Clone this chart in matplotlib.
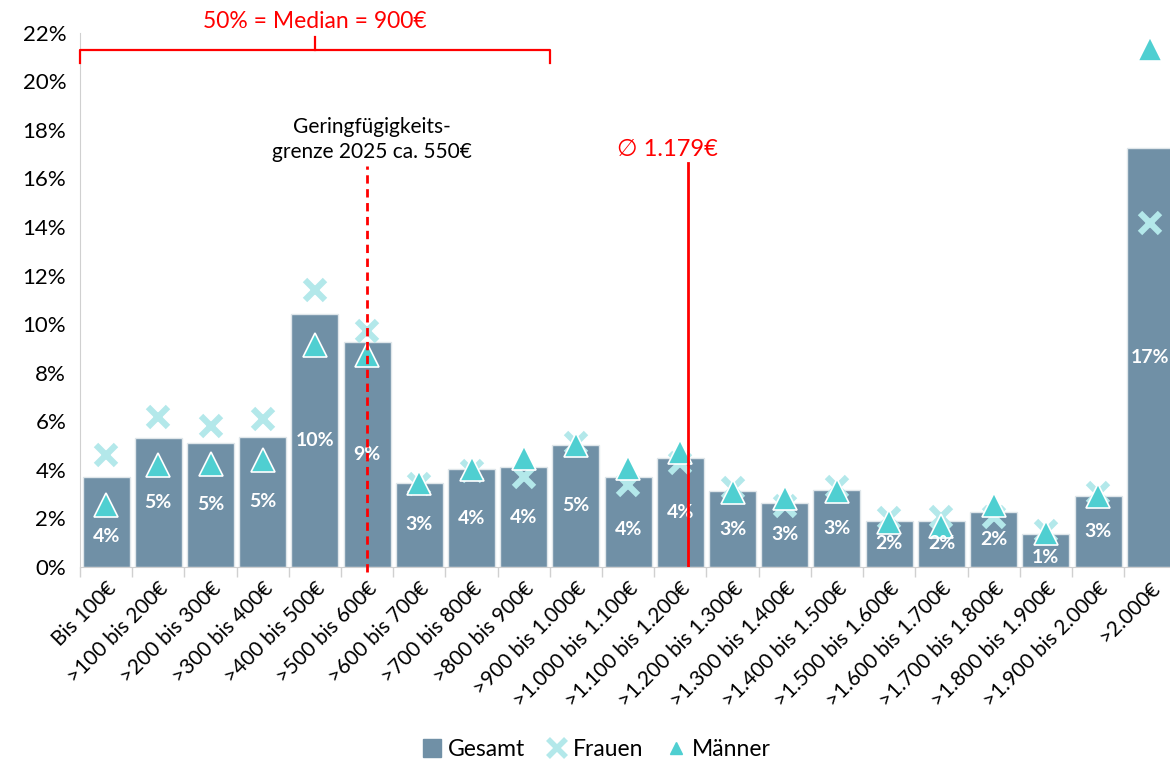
import matplotlib.pyplot as plt
from matplotlib.lines import Line2D
import numpy as np

plt.rcParams['font.family'] = ['Lato', 'DejaVu Sans']

kategorien = ['Bis 100€', '>100 bis 200€', '>200 bis 300€', '>300 bis 400€',
              '>400 bis 500€', '>500 bis 600€', '>600 bis 700€', '>700 bis 800€',
              '>800 bis 900€', '>900 bis 1.000€', '>1.000 bis 1.100€',
              '>1.100 bis 1.200€', '>1.200 bis 1.300€', '>1.300 bis 1.400€',
              '>1.400 bis 1.500€', '>1.500 bis 1.600€', '>1.600 bis 1.700€',
              '>1.700 bis 1.800€', '>1.800 bis 1.900€', '>1.900 bis 2.000€',
              '>2.000€']
gesamt = [3.72, 5.33, 5.12, 5.36, 10.41, 9.28, 3.46, 4.02, 4.11, 5.03, 3.71,
          4.48, 3.12, 2.64, 3.17, 1.90, 1.90, 2.27, 1.37, 2.93, 17.26]
frauen = [4.59, 6.19, 5.81, 6.10, 11.39, 9.70, 3.42, 3.97, 3.72, 5.10, 3.38,
          4.27, 3.24, 2.49, 3.31, 2.01, 2.05, 2.05, 1.46, 3.04, 14.17]
maenner = [2.55, 4.20, 4.24, 4.40, 9.15, 8.74, 3.47, 4.02, 4.50, 5.03, 4.07,
           4.74, 3.10, 2.83, 3.14, 1.85, 1.69, 2.53, 1.39, 2.93, 21.34]

geringfuegig_pos = 5.0     # Klasse >500 bis 600€
durchschnitt_pos = 11.15   # 1.179€
median_pos = 8.5           # Ende der Klasse >800 bis 900€

c_bar = '#7090a6'
c_frau = '#b3e8ea'
c_mann = '#4fcfd1'
rot = '#ff0000'

fig = plt.figure(figsize=(11.7, 7.62), dpi=100)
ax = fig.add_axes([0.0684, 0.256, 0.937, 0.701])

x = np.arange(len(kategorien))
ax.bar(x, gesamt, width=0.9, color=c_bar, edgecolor='#dfe6ea', linewidth=1,
       zorder=2)
ax.plot(x, frauen, linestyle='none', marker='x', markersize=15, mew=4.5,
        color=c_frau, zorder=3)
ax.plot(x, maenner, linestyle='none', marker='^', markersize=17,
        markerfacecolor=c_mann, markeredgecolor='white', mew=1.2, zorder=4)

# Prozentwerte in den Balken
nudge = {0: -0.6, 10: -0.3, 18: -0.3}
for i, v in enumerate(gesamt):
    ax.text(i, v / 2 + nudge.get(i, 0), f'{round(v):.0f}%', ha='center',
            va='center', color='white', fontsize=14, fontweight='bold', zorder=5)

# Geringfügigkeitsgrenze
ax.plot([geringfuegig_pos, geringfuegig_pos], [-0.2, 16.5], color=rot,
        linestyle=(0, (3, 2)), linewidth=2, zorder=6, clip_on=False)
ax.text(geringfuegig_pos + 0.1, 17.6, 'Geringfügigkeits-\ngrenze 2025 ca. 550€',
        ha='center', va='center', fontsize=15, linespacing=1.35)

# Durchschnitt
ax.plot([durchschnitt_pos, durchschnitt_pos], [0, 16.65], color=rot,
        linewidth=2, zorder=6)
ax.text(durchschnitt_pos - 0.4, 17.2, '∅ 1.179€', ha='center', va='center',
        fontsize=17, color=rot)

# Median-Klammer
ax.plot([-0.5, -0.5, median_pos, median_pos], [20.77, 21.3, 21.3, 20.77],
        color=rot, linewidth=1.6, clip_on=False, zorder=6)
ax.plot([4, 4], [21.3, 21.84], color=rot, linewidth=1.6, clip_on=False)
ax.text(4, 22.45, '50% = Median = 900€', ha='center', va='center',
        fontsize=16.5, color=rot)

ax.set_xlim(-0.5, len(kategorien) - 0.5)
ax.set_ylim(0, 22)
ax.set_yticks(np.arange(0, 23, 2))
ax.set_yticklabels([f'{t}%' for t in range(0, 23, 2)], fontsize=16)
ax.tick_params(axis='y', length=0, pad=10)

ax.set_xticks(x)
ax.set_xticklabels(kategorien, rotation=45, ha='right', rotation_mode='anchor',
                   fontsize=15)
ax.tick_params(axis='x', which='major', length=0, pad=8)
ax.set_xticks(np.arange(-0.5, len(kategorien)), minor=True)
ax.tick_params(axis='x', which='minor', length=7, color='#d0d0d0', width=1)

for side in ['top', 'right']:
    ax.spines[side].set_visible(False)
ax.spines['left'].set_color('#d0d0d0')
ax.spines['bottom'].set_color('#d0d0d0')

handles = [
    Line2D([], [], linestyle='none', marker='s', markersize=13, color=c_bar),
    Line2D([], [], linestyle='none', marker='x', markersize=13, mew=4,
           color=c_frau),
    Line2D([], [], linestyle='none', marker='^', markersize=9, color=c_mann),
]
fig.legend(handles, ['Gesamt', 'Frauen', 'Männer'], loc='center',
           bbox_to_anchor=(0.51, 0.016), ncol=3, frameon=False, fontsize=16.5,
           handlelength=0.8, handletextpad=0.3, columnspacing=1.0)

fig.savefig('out.png', dpi=100)
